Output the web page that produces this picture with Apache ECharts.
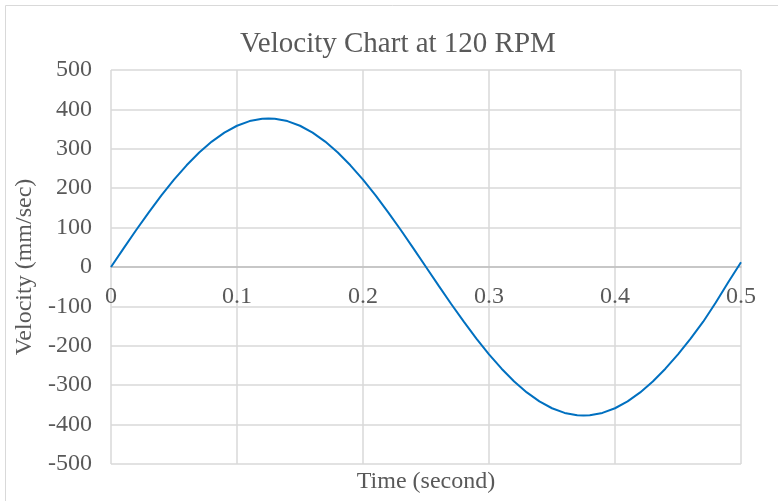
<!DOCTYPE html>
<html>
<head>
<meta charset="utf-8">
<script src="https://cdn.jsdelivr.net/npm/echarts@6/dist/echarts.min.js"></script>
<style>
  html, body { margin: 0; padding: 0; background: #fff; overflow: hidden; }
  #chart { width: 778px; height: 501px; }
</style>
</head>
<body>
<div id="chart"></div>
<script>
// Sampled crank velocity over one revolution (time in seconds, velocity in mm/sec)
const timeValues = [
  0.00, 0.01, 0.02, 0.03, 0.04, 0.05, 0.06, 0.07, 0.08, 0.09,
  0.10, 0.11, 0.12, 0.125, 0.13, 0.14, 0.15, 0.16, 0.17, 0.18, 0.19,
  0.20, 0.21, 0.22, 0.23, 0.24, 0.25, 0.26, 0.27, 0.28, 0.29,
  0.30, 0.31, 0.32, 0.33, 0.34, 0.35, 0.36, 0.37, 0.375, 0.38, 0.39,
  0.40, 0.41, 0.42, 0.43, 0.44, 0.45, 0.46, 0.47, 0.48, 0.49,
  0.50
];
const velocityValues = [
  0, 47.3, 93.8, 138.8, 181.6, 221.6, 258.1, 290.5, 318.3, 341.1,
  358.5, 370.3, 376.3, 377, 376.3, 370.3, 358.5, 341.1, 318.3, 290.5, 258.1,
  221.6, 181.6, 138.8, 93.8, 47.3, 0, -47.3, -93.8, -138.8, -181.6,
  -221.6, -258.1, -290.5, -318.3, -341.1, -358.5, -370.3, -376.3, -377, -376.3, -370.3,
  -358.5, -341.1, -318.3, -290.5, -258.1, -221.6, -181.6, -138.8, -90, -38,
  12
];
const xTicks = [0, 0.1, 0.2, 0.3, 0.4, 0.5];
const yTicks = [-500, -400, -300, -200, -100, 0, 100, 200, 300, 400, 500];

const chart = echarts.init(document.getElementById('chart'), null, { renderer: 'canvas' });
const font = 'Liberation Serif, Times New Roman, serif';
const textColor = '#595959';
const gridTop = 70, gridBottom = 37, chartHeight = 501;
// distance from the bottom of the plot up to the zero line, so the time axis sits on y = 0
const zeroOffset = (chartHeight - gridTop - gridBottom) / 2;

chart.setOption({
  animation: false,
  title: {
    text: 'Velocity Chart at 120 RPM',
    left: 393,
    textAlign: 'center',
    top: 25,
    textStyle: { fontFamily: font, fontSize: 29, fontWeight: 'normal', color: textColor }
  },
  grid: { left: 111, right: 37, top: gridTop, bottom: gridBottom, containLabel: false },
  xAxis: {
    type: 'value',
    min: xTicks[0],
    max: xTicks[xTicks.length - 1],
    interval: 0.1,
    offset: -zeroOffset,
    axisLine: { onZero: false, lineStyle: { color: '#bfbfbf', width: 1.5 } },
    axisTick: { show: false },
    axisLabel: {
      fontFamily: font, fontSize: 24, color: textColor, margin: 18,
      formatter: v => String(Math.round(v * 10) / 10)
    },
    splitLine: { show: true, lineStyle: { color: '#d9d9d9', width: 1.5 } }
  },
  yAxis: {
    type: 'value',
    min: yTicks[0],
    max: yTicks[yTicks.length - 1],
    interval: 100,
    name: 'Velocity (mm/sec)',
    nameLocation: 'middle',
    nameGap: 70,
    nameRotate: 90,
    nameTextStyle: { fontFamily: font, fontSize: 24, color: textColor },
    axisLine: { show: false },
    axisTick: { show: false },
    axisLabel: { fontFamily: font, fontSize: 24, color: textColor, margin: 19 },
    splitLine: { show: true, lineStyle: { color: '#d9d9d9', width: 1.5 } }
  },
  graphic: [
    {
      type: 'rect',
      shape: { x: 5.5, y: 5.5, width: 800, height: 600 },
      style: { fill: 'none', stroke: '#d9d9d9', lineWidth: 1 },
      silent: true
    },
    {
      type: 'text',
      x: 426,
      y: 470,
      style: { text: 'Time (second)', font: '24px ' + font, fill: textColor, align: 'center', verticalAlign: 'top' }
    }
  ],
  series: [{
    type: 'line',
    data: timeValues.map((t, i) => [t, velocityValues[i]]),
    smooth: false,
    showSymbol: false,
    lineStyle: { color: '#0070c0', width: 2 }
  }]
});
</script>
</body>
</html>
